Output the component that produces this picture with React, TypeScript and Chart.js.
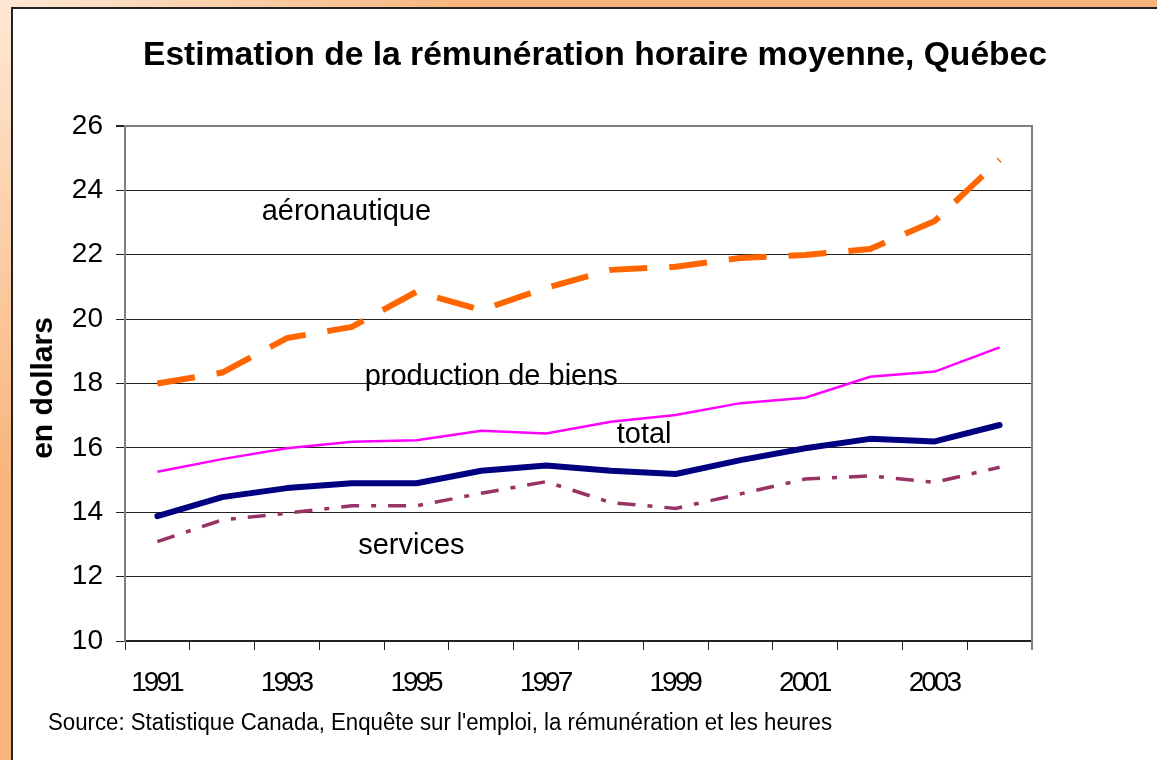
import React, { useEffect, useRef } from "react";
import { Chart, registerables } from "chart.js";

Chart.register(...registerables);

const years = ["1991", "1992", "1993", "1994", "1995", "1996", "1997", "1998", "1999", "2000", "2001", "2002", "2003", "2004"];
const aeronautique = [18.0, 18.34, 19.41, 19.76, 20.85, 20.28, 20.97, 21.53, 21.63, 21.9, 21.99, 22.18, 23.05, 24.95];
const productionBiens = [15.26, 15.65, 15.99, 16.19, 16.24, 16.53, 16.45, 16.81, 17.02, 17.39, 17.56, 18.21, 18.37, 19.12];
const total = [13.88, 14.47, 14.75, 14.9, 14.9, 15.29, 15.45, 15.29, 15.19, 15.62, 15.99, 16.28, 16.2, 16.71];
const services = [13.09, 13.76, 13.97, 14.2, 14.2, 14.59, 14.95, 14.3, 14.12, 14.57, 15.03, 15.13, 14.93, 15.4];

const yMin = 10;
const yMax = 26;
const yStep = 2;

const titleText = "Estimation de la rémunération horaire moyenne, Québec";
const yTitleText = "en dollars";
const sourceText = "Source: Statistique Canada, Enquête sur l'emploi, la rémunération et les heures";

// series labels placed in data space: [text, category index (left edge), value (baseline)]
const seriesLabels: [string, number, number][] = [
  ["aéronautique", 1.61, 23.08],
  ["production de biens", 3.2, 17.95],
  ["total", 7.09, 16.14],
  ["services", 3.1, 12.7],
];

const FONT = "'Liberation Sans', Arial, Helvetica, sans-serif";

const framePlugin = {
  id: "frame",
  beforeDraw(chart: any) {
    const { ctx, width, height } = chart;
    ctx.save();
    const g = ctx.createRadialGradient(0, 0, 0, 0, 0, 480);
    g.addColorStop(0, "#FEE8D4");
    g.addColorStop(1, "#F9B47B");
    ctx.fillStyle = g;
    ctx.fillRect(0, 0, width, height);
    ctx.fillStyle = "#ffffff";
    ctx.fillRect(12, 8, width - 12, height - 8);
    ctx.strokeStyle = "#222";
    ctx.lineWidth = 2;
    ctx.beginPath();
    ctx.moveTo(12, height);
    ctx.lineTo(12, 8);
    ctx.lineTo(width, 8);
    ctx.stroke();
    ctx.restore();
  },
  beforeDatasetsDraw(chart: any) {
    const { ctx, chartArea } = chart;
    ctx.save();
    ctx.strokeStyle = "#808080";
    ctx.lineWidth = 2;
    ctx.beginPath();
    ctx.moveTo(chartArea.left, chartArea.top);
    ctx.lineTo(chartArea.right, chartArea.top);
    ctx.lineTo(chartArea.right, chartArea.bottom + 9);
    ctx.stroke();
    ctx.restore();
  },
  afterDraw(chart: any) {
    const { ctx } = chart;
    const xs = chart.scales.x;
    const ys = chart.scales.y;
    ctx.save();
    ctx.fillStyle = "#000";
    // x tick labels (condensed, as in the original)
    ctx.font = `28px ${FONT}`;
    ctx.textAlign = "center";
    ctx.textBaseline = "alphabetic";
    try {
      (ctx as any).letterSpacing = "-3px";
    } catch (e) {}
    xs.ticks.forEach((t: any, i: number) => {
      const lbl = i % 2 === 0 ? years[i] : "";
      if (!lbl) return;
      ctx.fillText(lbl, xs.getPixelForTick(i) - 1, 691, 52);
    });
    try {
      (ctx as any).letterSpacing = "0px";
    } catch (e) {}
    // title
    ctx.font = `bold 34px ${FONT}`;
    ctx.textAlign = "center";
    ctx.fillText(titleText, 595, 65, 904);
    // y title
    ctx.save();
    ctx.translate(52, 388);
    ctx.rotate(-Math.PI / 2);
    ctx.font = `bold 30px ${FONT}`;
    ctx.textAlign = "center";
    ctx.fillText(yTitleText, 0, 0);
    ctx.restore();
    // source
    ctx.font = `23px ${FONT}`;
    ctx.textAlign = "left";
    ctx.fillText(sourceText, 48, 730, 784);
    // series labels
    ctx.font = `29px ${FONT}`;
    for (const [t, xi, v] of seriesLabels) {
      ctx.fillText(t, xs.getPixelForValue(xi), ys.getPixelForValue(v));
    }
    ctx.restore();
  },
};

export default function App() {
  const ref = useRef<HTMLCanvasElement | null>(null);
  useEffect(() => {
    document.body.style.margin = "0";
    const canvas = ref.current!;
    const chart = new Chart(canvas, {
      type: "line",
      data: {
        labels: years,
        datasets: [
          {
            label: "aéronautique",
            data: aeronautique,
            borderColor: "#FF6600",
            borderWidth: 6,
            borderDash: [38, 22],
            borderCapStyle: "butt",
            pointRadius: 0,
            tension: 0,
            fill: false,
          },
          {
            label: "production de biens",
            data: productionBiens,
            borderColor: "#FF00FF",
            borderWidth: 2.5,
            pointRadius: 0,
            tension: 0,
            fill: false,
          },
          {
            label: "total",
            data: total,
            borderColor: "#000080",
            borderWidth: 6,
            borderCapStyle: "round",
            borderJoinStyle: "round",
            pointRadius: 0,
            tension: 0,
            fill: false,
          },
          {
            label: "services",
            data: services,
            borderColor: "#993366",
            borderWidth: 3.5,
            borderDash: [18, 12, 5, 12],
            borderCapStyle: "butt",
            pointRadius: 0,
            tension: 0,
            fill: false,
          },
        ],
      },
      options: {
        animation: false,
        responsive: false,
        devicePixelRatio: 1,
        layout: { padding: { left: 0, top: 126, right: 125, bottom: 29 } },
        plugins: {
          legend: { display: false },
          title: { display: false },
          tooltip: { enabled: false },
        },
        scales: {
          x: {
            type: "category",
            offset: true,
            afterFit: (s: any) => {
              s.height = 90;
            },
            grid: {
              offset: true,
              drawOnChartArea: false,
              drawTicks: true,
              tickLength: 9,
              color: "#222",
              lineWidth: 1,
            },
            border: { color: "#222", width: 2 },
            ticks: {
              autoSkip: false,
              maxRotation: 0,
              minRotation: 0,
              padding: 10,
              color: "rgba(0,0,0,0)",
              font: { family: FONT, size: 28 },
              callback: (_v: any, i: number) => (i % 2 === 0 ? years[i] : ""),
            },
          },
          y: {
            min: yMin,
            max: yMax,
            afterFit: (s: any) => {
              s.width = 125;
            },
            grid: {
              color: (c: any) => (c.tick && c.tick.value === yMax ? "#808080" : "#222"),
              lineWidth: (c: any) => (c.tick && c.tick.value === yMax ? 2 : 1),
              tickColor: "#222",
              tickLength: 9,
            },
            border: { color: "#808080", width: 2 },
            ticks: {
              stepSize: yStep,
              padding: 13,
              color: "#000",
              font: { family: FONT, size: 28 },
            },
          },
        },
      },
      plugins: [framePlugin],
    } as any);
    return () => chart.destroy();
  }, []);
  return (
    <div style={{ width: 1157, height: 760 }}>
      <canvas ref={ref} width={1157} height={760} style={{ display: "block", width: 1157, height: 760 }} />
    </div>
  );
}
